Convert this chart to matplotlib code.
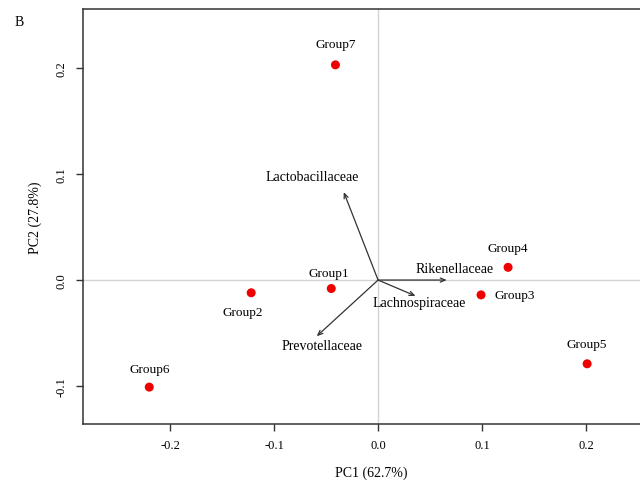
import matplotlib.pyplot as plt
import numpy as np

plt.rcParams['font.family'] = ['Liberation Serif', 'DejaVu Serif']

# sample scores
groups = ['Group1', 'Group2', 'Group3', 'Group4', 'Group5', 'Group6', 'Group7']
pc1 = [-0.045, -0.122, 0.099, 0.125, 0.201, -0.220, -0.041]
pc2 = [-0.008, -0.012, -0.014, 0.012, -0.079, -0.101, 0.203]

# family loadings (arrow tips)
families = ['Lactobacillaceae', 'Rikenellaceae', 'Lachnospiraceae', 'Prevotellaceae']
load1 = [-0.033, 0.066, 0.036, -0.059]
load2 = [0.083, 0.0, -0.015, -0.053]

xticks = [-0.2, -0.1, 0.0, 0.1, 0.2]
yticks = [-0.1, 0.0, 0.1, 0.2]

# label offsets in points
grp_off = {'Group1': (-2, 11), 'Group2': (-6, -14), 'Group3': (10, 0), 'Group4': (0, 14),
           'Group5': (0, 14), 'Group6': (0, 13), 'Group7': (0, 15)}
grp_ha = {'Group3': 'left'}
fam_off = {'Lactobacillaceae': (-23, 11), 'Rikenellaceae': (6, 8),
           'Lachnospiraceae': (3, -5), 'Prevotellaceae': (4, -7)}

fig = plt.figure(figsize=(6.4, 4.81), dpi=100)
ax = fig.add_axes([83/640, 56/481, 0.9, 415/481])

ax.axhline(0, color='#d4d4d4', lw=1, zorder=0)
ax.axvline(0, color='#d4d4d4', lw=1, zorder=0)

ax.scatter(pc1, pc2, s=42, color='#ee0000', zorder=3, edgecolors='none')
for g, x, y in zip(groups, pc1, pc2):
    ax.annotate(g, (x, y), xytext=grp_off[g], textcoords='offset points',
                ha=grp_ha.get(g, 'center'), va='center', fontsize=9.5)

for f, x, y in zip(families, load1, load2):
    ax.annotate('', xy=(x, y), xytext=(0, 0),
                arrowprops=dict(arrowstyle='->,head_length=0.35,head_width=0.15',
                                color='#333333', lw=0.9, shrinkA=0, shrinkB=0))
    ax.annotate(f, (x, y), xytext=fam_off[f], textcoords='offset points',
                ha='center', va='center', fontsize=10)

ax.set_xlim(-0.2837, 0.2701)
ax.set_ylim(-0.1358, 0.2557)
ax.set_xticks(xticks)
ax.set_xticklabels(['-0.2', '-0.1', '0.0', '0.1', '0.2'])
ax.set_yticks(yticks)
ax.set_yticklabels(['-0.1', '0.0', '0.1', '0.2'], rotation=90, va='center')
ax.tick_params(direction='out', length=5, width=1, color='#333333', labelsize=9, pad=6)
for s in ax.spines.values():
    s.set_color('#333333')
    s.set_linewidth(1.1)
ax.spines['right'].set_visible(False)

ax.set_xlabel('PC1 (62.7%)', fontsize=10, labelpad=10)
ax.set_ylabel('PC2 (27.8%)', fontsize=10, labelpad=10)
fig.text(15/640, 1 - 22/481, 'B', fontsize=10, va='center')

fig.savefig('out.png', dpi=100)
